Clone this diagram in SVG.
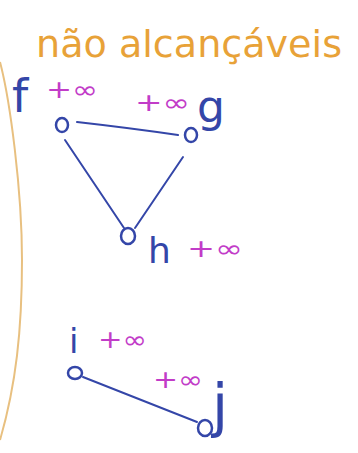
<svg xmlns="http://www.w3.org/2000/svg" width="358" height="453" viewBox="0 0 358 453">
<style>
.lbl{font-family:"DejaVu Sans","Liberation Sans",sans-serif;fill:#3446a8}
.inf{font-family:"DejaVu Sans","Liberation Sans",sans-serif;fill:#c23cc8;font-size:24px}
.node{fill:none;stroke:#3446a8;stroke-width:2.5}
.edge{fill:none;stroke:#3446a8;stroke-width:2;stroke-linecap:round}
</style>
<rect width="358" height="453" fill="#ffffff"/>
<path d="M0,62 C10,100 22,190 22,260 C22,330 16,385 0,440" fill="none" stroke="#e8c080" stroke-width="2"/>
<text x="36" y="57" font-family="DejaVu Sans, sans-serif" font-size="38" fill="#e8a238" textLength="306" lengthAdjust="spacingAndGlyphs">não alcançáveis</text>
<g id="connectors">
<path class="edge" d="M77,122 Q130,128 178,135"/>
<path class="edge" d="M65,140 L124,228"/>
<path class="edge" d="M183,157 L135,228"/>
<path class="edge" d="M83,377 L197,422"/>
</g>
<g id="node-f">
<ellipse class="node" cx="62" cy="125" rx="6" ry="7"/>
<text class="lbl" x="12" y="112" font-size="46">f</text>
<text class="inf" x="46" y="98" textLength="52" lengthAdjust="spacingAndGlyphs">+∞</text>
</g>
<g id="node-g">
<ellipse class="node" cx="191" cy="135" rx="6" ry="7"/>
<text class="lbl" x="197" y="122" font-size="44">g</text>
<text class="inf" x="135" y="111" textLength="55" lengthAdjust="spacingAndGlyphs">+∞</text>
</g>
<g id="node-h">
<ellipse class="node" cx="128" cy="236" rx="7" ry="8"/>
<text class="lbl" x="148" y="263" font-size="36">h</text>
<text class="inf" x="187" y="257" textLength="56" lengthAdjust="spacingAndGlyphs">+∞</text>
</g>
<g id="node-i">
<ellipse class="node" cx="75" cy="373" rx="7" ry="6"/>
<text class="lbl" x="69" y="353" font-size="34">i</text>
<text class="inf" x="98" y="348" textLength="49" lengthAdjust="spacingAndGlyphs">+∞</text>
</g>
<g id="node-j">
<ellipse class="node" cx="205" cy="428" rx="7" ry="8"/>
<text class="lbl" x="212" y="426" font-size="58">j</text>
<text class="inf" x="153" y="388" textLength="50" lengthAdjust="spacingAndGlyphs">+∞</text>
</g>
</svg>
